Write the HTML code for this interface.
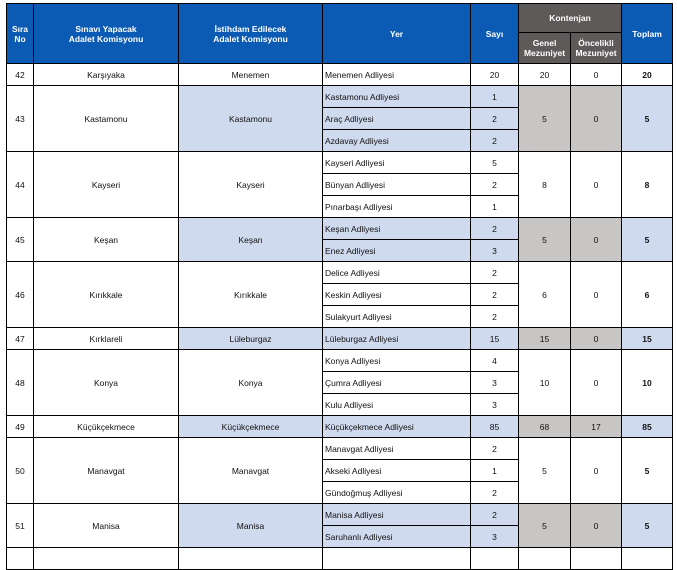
<!DOCTYPE html>
<html style="overflow:hidden;width:677px;height:555px"><head><meta charset="utf-8"><style>
html,body{margin:0;width:677px;height:555px;overflow:hidden;background:#fff;font-family:"Liberation Sans",sans-serif;}
table{position:absolute;left:6px;top:3px;border-collapse:collapse;table-layout:fixed;width:666px;}
td,th{border:1px solid #000;padding:0;font-size:8.5px;text-align:center;vertical-align:middle;color:#111;height:21px;line-height:10px;}
th{background:#0b5bb5;color:#fff;font-weight:bold;font-size:8.5px;}
th.g{background:#5f5a5a;}
td.l{text-align:left;padding-left:2px;}
.b{background:#d0daee;}
.y{background:#c8c6c4;}
.t{font-weight:bold;}
</style></head><body>
<table>
<colgroup><col style="width:27px"><col style="width:145px"><col style="width:144px"><col style="width:148px"><col style="width:48px"><col style="width:52px"><col style="width:51px"><col style="width:51px"></colgroup>
<tr style="height:29px"><th rowspan="2">Sıra<br>No</th><th rowspan="2">Sınavı Yapacak<br>Adalet Komisyonu</th><th rowspan="2">İstihdam Edilecek<br>Adalet Komisyonu</th><th rowspan="2">Yer</th><th rowspan="2">Sayı</th><th colspan="2" class="g" style="height:28px">Kontenjan</th><th rowspan="2">Toplam</th></tr>
<tr><th class="g" style="height:30px">Genel<br>Mezuniyet</th><th class="g">Öncelikli<br>Mezuniyet</th></tr>

<tr><td>42</td><td>Karşıyaka</td><td>Menemen</td><td class="l">Menemen Adliyesi</td><td>20</td><td>20</td><td>0</td><td class="t">20</td></tr>

<tr><td rowspan="3">43</td><td rowspan="3">Kastamonu</td><td rowspan="3" class="b">Kastamonu</td><td class="l b">Kastamonu Adliyesi</td><td class="b">1</td><td rowspan="3" class="y">5</td><td rowspan="3" class="y">0</td><td rowspan="3" class="b t">5</td></tr>
<tr><td class="l b">Araç Adliyesi</td><td class="b">2</td></tr>
<tr><td class="l b">Azdavay Adliyesi</td><td class="b">2</td></tr>

<tr><td rowspan="3">44</td><td rowspan="3">Kayseri</td><td rowspan="3">Kayseri</td><td class="l">Kayseri Adliyesi</td><td>5</td><td rowspan="3">8</td><td rowspan="3">0</td><td rowspan="3" class="t">8</td></tr>
<tr><td class="l">Bünyan Adliyesi</td><td>2</td></tr>
<tr><td class="l">Pınarbaşı Adliyesi</td><td>1</td></tr>

<tr><td rowspan="2">45</td><td rowspan="2">Keşan</td><td rowspan="2" class="b">Keşan</td><td class="l b">Keşan Adliyesi</td><td class="b">2</td><td rowspan="2" class="y">5</td><td rowspan="2" class="y">0</td><td rowspan="2" class="b t">5</td></tr>
<tr><td class="l b">Enez Adliyesi</td><td class="b">3</td></tr>

<tr><td rowspan="3">46</td><td rowspan="3">Kırıkkale</td><td rowspan="3">Kırıkkale</td><td class="l">Delice Adliyesi</td><td>2</td><td rowspan="3">6</td><td rowspan="3">0</td><td rowspan="3" class="t">6</td></tr>
<tr><td class="l">Keskin Adliyesi</td><td>2</td></tr>
<tr><td class="l">Sulakyurt Adliyesi</td><td>2</td></tr>

<tr><td>47</td><td>Kırklareli</td><td class="b">Lüleburgaz</td><td class="l b">Lüleburgaz Adliyesi</td><td class="b">15</td><td class="y">15</td><td class="y">0</td><td class="b t">15</td></tr>

<tr><td rowspan="3">48</td><td rowspan="3">Konya</td><td rowspan="3">Konya</td><td class="l">Konya Adliyesi</td><td>4</td><td rowspan="3">10</td><td rowspan="3">0</td><td rowspan="3" class="t">10</td></tr>
<tr><td class="l">Çumra Adliyesi</td><td>3</td></tr>
<tr><td class="l">Kulu Adliyesi</td><td>3</td></tr>

<tr><td>49</td><td>Küçükçekmece</td><td class="b">Küçükçekmece</td><td class="l b">Küçükçekmece Adliyesi</td><td class="b">85</td><td class="y">68</td><td class="y">17</td><td class="b t">85</td></tr>

<tr><td rowspan="3">50</td><td rowspan="3">Manavgat</td><td rowspan="3">Manavgat</td><td class="l">Manavgat Adliyesi</td><td>2</td><td rowspan="3">5</td><td rowspan="3">0</td><td rowspan="3" class="t">5</td></tr>
<tr><td class="l">Akseki Adliyesi</td><td>1</td></tr>
<tr><td class="l">Gündoğmuş Adliyesi</td><td>2</td></tr>

<tr><td rowspan="2">51</td><td rowspan="2">Manisa</td><td rowspan="2" class="b">Manisa</td><td class="l b">Manisa Adliyesi</td><td class="b">2</td><td rowspan="2" class="y">5</td><td rowspan="2" class="y">0</td><td rowspan="2" class="b t">5</td></tr>
<tr><td class="l b">Saruhanlı Adliyesi</td><td class="b">3</td></tr>

<tr><td style="height:12px"></td><td></td><td></td><td></td><td></td><td></td><td></td><td></td></tr>
</table>
</body></html>
